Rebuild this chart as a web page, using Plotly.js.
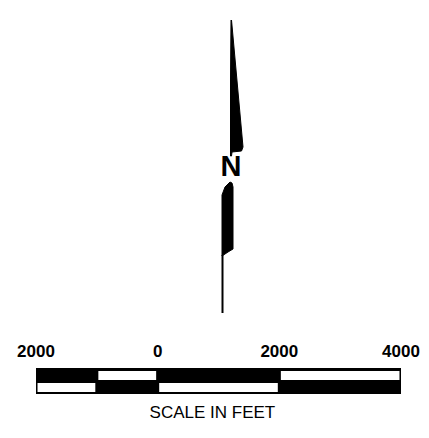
<!DOCTYPE html>
<html>
<head>
<meta charset="utf-8">
<script src="https://cdn.plot.ly/plotly-3.0.1.min.js"></script>
<style>html,body{margin:0;padding:0;background:#fff;}#chart{width:429px;height:438px;}</style>
</head>
<body>
<div id="chart"></div>
<script>
// Scale bar (feet)
const scaleTicks = [-2000, 0, 2000, 4000];
const tickLabels = ['2000', '0', '2000', '4000'];
const segStarts = [-2000, -1000, 0, 2000];
const segEnds = [-1000, 0, 2000, 4000];
const topRowWhite = [false, true, false, true];
const bottomRowWhite = [true, false, true, false];
const scaleTitle = 'SCALE IN FEET';

// North arrow outline (drawing units = pixels of the sheet)
const arrowUpperX = [231.5, 243, 241.5, 232, 231.5, 230.5, 230.5, 231];
const arrowUpperY = [20, 147, 151, 152, 156, 156, 80, 20];
const arrowLowerX = [230, 232, 233, 233, 228, 223, 222, 222, 225, 230];
const arrowLowerY = [182, 183, 187, 249, 252, 256, 256, 195, 187, 182];
const arrowTailX = [222.5, 222.5];
const arrowTailY = [255, 313];
const northLabel = 'N';

const inset = 25;
function whiteBars(flags, yc) {
  const base = [], len = [], ys = [];
  flags.forEach((w, i) => {
    if (w) {
      base.push(segStarts[i] + inset);
      len.push(segEnds[i] - segStarts[i] - 2 * inset);
      ys.push(yc);
    }
  });
  return {type: 'bar', orientation: 'h', base: base, x: len, y: ys, width: 9,
    marker: {color: '#ffffff', line: {width: 0}}, hoverinfo: 'skip', showlegend: false};
}

const traces = [
  {type: 'bar', orientation: 'h', base: [segStarts[0]], x: [segEnds[segEnds.length - 1] - segStarts[0]], y: [381], width: 26,
   marker: {color: '#000000', line: {width: 0}}, hoverinfo: 'skip', showlegend: false},
  whiteBars(topRowWhite, 375.5),
  whiteBars(bottomRowWhite, 387.5),
  {type: 'scatter', mode: 'text', x: scaleTicks, y: scaleTicks.map(() => 353), text: tickLabels,
   textfont: {family: 'Liberation Sans, Arial, sans-serif', size: 17, weight: 'bold', color: '#000'},
   hoverinfo: 'skip', showlegend: false},
  {type: 'scatter', mode: 'text', x: [900], y: [414], text: [scaleTitle],
   textfont: {family: 'Liberation Sans, Arial, sans-serif', size: 17, color: '#000'},
   hoverinfo: 'skip', showlegend: false},
  {type: 'scatter', mode: 'lines', xaxis: 'x2', x: arrowUpperX, y: arrowUpperY, fill: 'toself',
   fillcolor: '#000', line: {color: '#000', width: 1}, hoverinfo: 'skip', showlegend: false},
  {type: 'scatter', mode: 'lines', xaxis: 'x2', x: arrowLowerX, y: arrowLowerY, fill: 'toself',
   fillcolor: '#000', line: {color: '#000', width: 1}, hoverinfo: 'skip', showlegend: false},
  {type: 'scatter', mode: 'lines', xaxis: 'x2', x: arrowTailX, y: arrowTailY,
   line: {color: '#000', width: 2}, hoverinfo: 'skip', showlegend: false},
  {type: 'scatter', mode: 'text', xaxis: 'x2', x: [231], y: [168.5], text: [northLabel],
   textfont: {family: 'Liberation Sans, Arial, sans-serif', size: 29, weight: 'bold', color: '#000'},
   hoverinfo: 'skip', showlegend: false}
];

const s = 365 / 6000;
const layout = {
  width: 429, height: 438,
  margin: {l: 0, r: 0, t: 0, b: 0, pad: 0},
  paper_bgcolor: '#fff', plot_bgcolor: '#fff',
  showlegend: false,
  xaxis: {range: [-2000 - 36 / s, 4000 + (429 - 401) / s], visible: false, fixedrange: true},
  xaxis2: {range: [0, 429], overlaying: 'x', visible: false, fixedrange: true},
  yaxis: {range: [438, 0], visible: false, fixedrange: true},
  barmode: 'overlay'
};

Plotly.newPlot('chart', traces, layout, {staticPlot: true, displayModeBar: false});
</script>
</body>
</html>
